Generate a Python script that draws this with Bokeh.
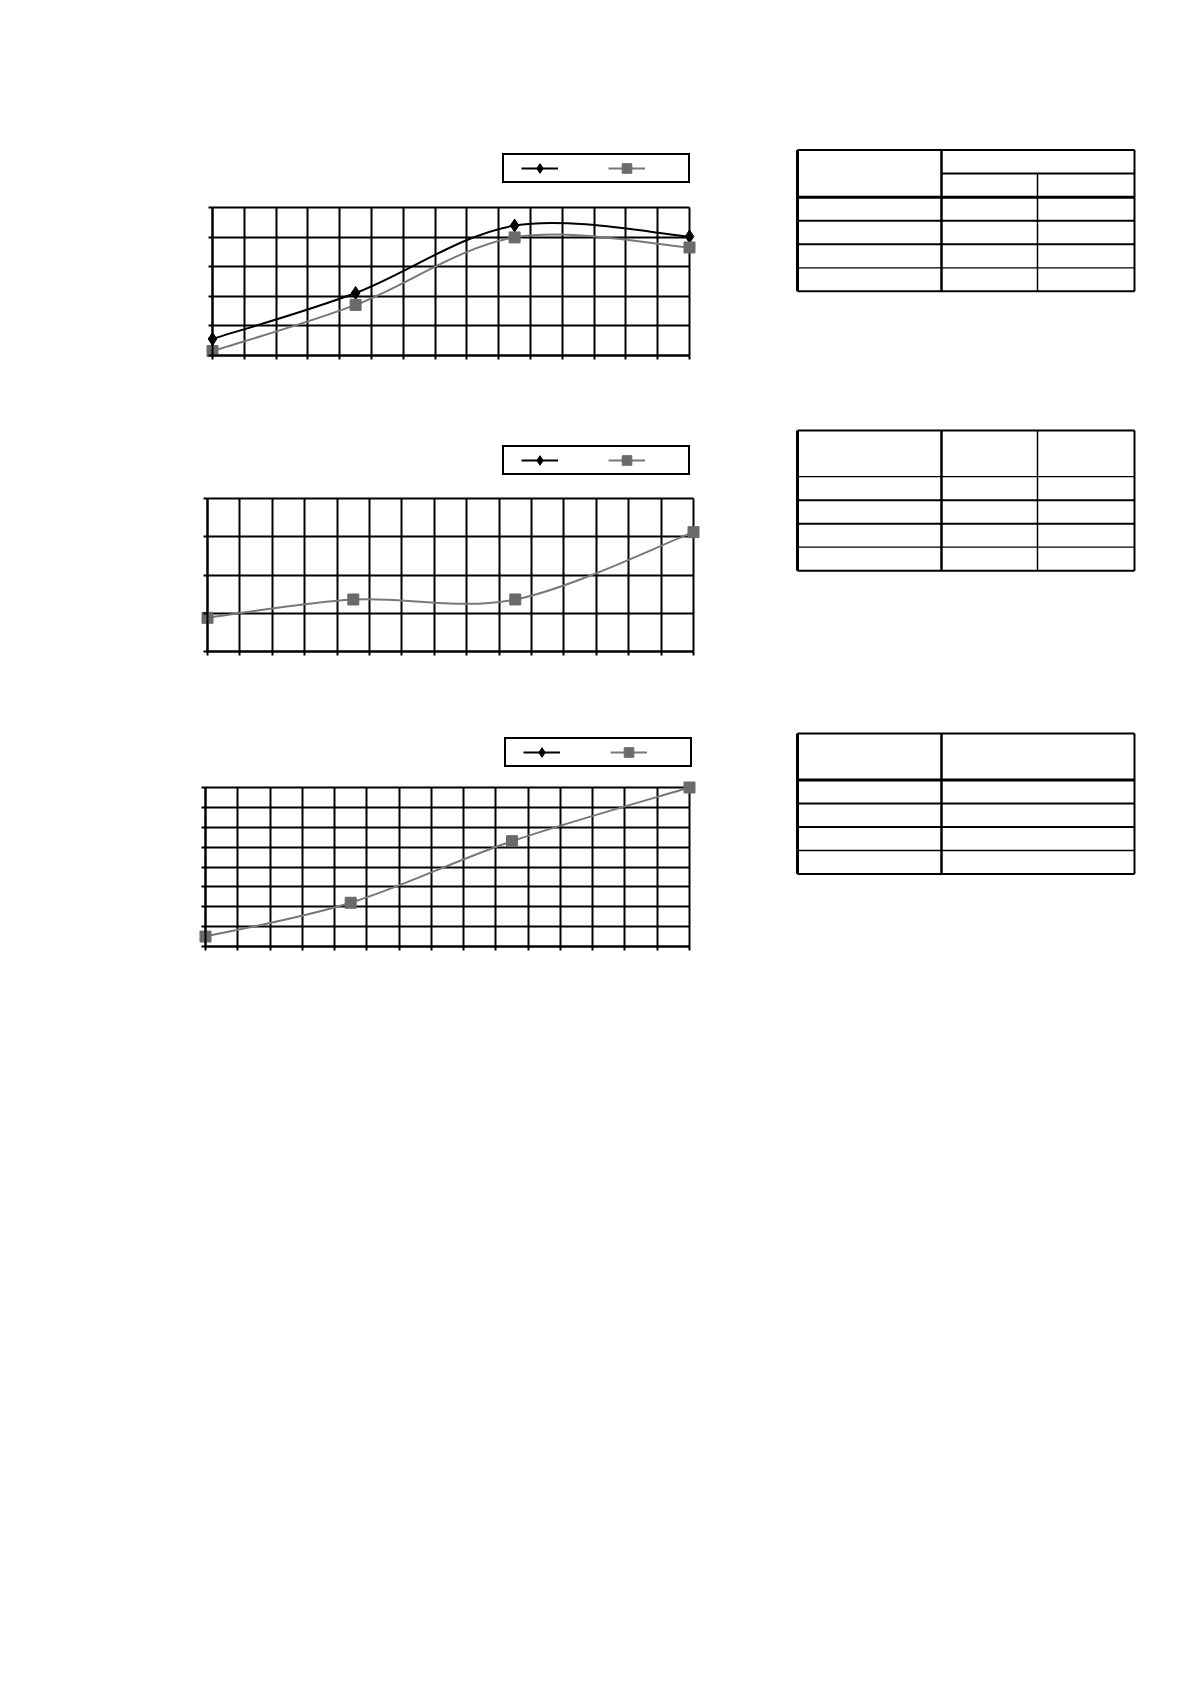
from bokeh.plotting import figure
from bokeh.models import (Range1d, FixedTicker, CustomJSTickFormatter, Legend,
                          LegendItem, ColumnDataSource)
from bokeh.layouts import row, column
from bokeh.embed import file_html
from bokeh.resources import INLINE

# ---------------- data ----------------
x_pos = [0, 4.5, 9.5, 15]
c1_black = [0.56, 2.11, 4.39, 4.02]
c1_gray = [0.15, 1.71, 3.99, 3.65]
c2_gray = [0.88, 1.36, 1.36, 3.12]
c3_gray = [0.5, 2.2, 5.3, 8.0]
x_ticks = list(range(0, 16))
y_ticks_1 = list(range(0, 6))
y_ticks_2 = list(range(0, 5))
y_ticks_3 = list(range(0, 9))

BLACK = "#000000"
GRAY = "#787878"
GRAY_M = "#6a6a6a"
PAD = 8
FIG_W = 752
LEG_H = 26
FRAME_L = 195     # common frame left of the three charts
FRAME_R = 701     # common frame right of the three charts
NAN = float("nan")


def bezier_parts(xs, ys):
    n = len(xs)
    P = list(zip(xs, ys))
    d = dict(x0=[], y0=[], x1=[], y1=[], cx0=[], cy0=[], cx1=[], cy1=[])
    for i in range(n - 1):
        pm, p0, p1, p2 = P[max(i - 1, 0)], P[i], P[i + 1], P[min(i + 2, n - 1)]
        d["x0"].append(p0[0]); d["y0"].append(p0[1])
        d["x1"].append(p1[0]); d["y1"].append(p1[1])
        d["cx0"].append(p0[0] + (p1[0] - pm[0]) / 6)
        d["cy0"].append(p0[1] + (p1[1] - pm[1]) / 6)
        d["cx1"].append(p1[0] - (p2[0] - p0[0]) / 6)
        d["cy1"].append(p1[1] - (p2[1] - p0[1]) / 6)
    return d


def make_chart(black, gray, yticks, fig_h, gl, gt, gw, gh, leg_left, leg_top):
    x0, x1 = x_ticks[0], x_ticks[-1]
    y0, y1 = yticks[0], yticks[-1]
    frame_top = leg_top - 4
    top_pad = gt - frame_top
    lpad = gl - FRAME_L
    rpad = FRAME_R - (gl + gw)
    fh = gh + PAD + top_pad
    p = figure(frame_width=FRAME_R - FRAME_L, frame_height=fh,
               min_border_left=FRAME_L,
               min_border_right=FIG_W - FRAME_R,
               min_border_top=frame_top,
               min_border_bottom=fig_h - frame_top - fh,
               x_range=Range1d(x0 - lpad * (x1 - x0) / gw, x1 + rpad * (x1 - x0) / gw),
               y_range=Range1d(y0 - PAD * (y1 - y0) / gh, y1 + top_pad * (y1 - y0) / gh),
               output_backend="svg", toolbar_location=None)
    p.background_fill_color = "white"
    p.border_fill_color = "white"
    p.outline_line_color = None
    for ax, ticks, loc, b in ((p.xaxis, x_ticks, y0, (x0, x1)),
                              (p.yaxis, yticks, x0, (y0, y1))):
        ax.ticker = FixedTicker(ticks=ticks)
        ax.formatter = CustomJSTickFormatter(code="return ''")
        ax.fixed_location = loc
        ax.bounds = b
        ax.axis_line_color = BLACK
        ax.axis_line_width = 2
        ax.major_tick_line_color = BLACK
        ax.major_tick_line_width = 2
        ax.major_tick_out = 4
        ax.major_tick_in = 0
        ax.minor_tick_line_color = None
        ax.major_label_text_font_size = "1px"
    p.xgrid.ticker = FixedTicker(ticks=x_ticks)
    p.ygrid.ticker = FixedTicker(ticks=yticks)
    p.xgrid.bounds = (x0, x1)
    p.xgrid.cross_bounds = (y0, y1)
    p.ygrid.bounds = (y0, y1)
    p.ygrid.cross_bounds = (x0, x1)
    for g in (p.xgrid, p.ygrid):
        g.grid_line_color = BLACK
        g.grid_line_width = 2
        g.grid_line_alpha = 1

    items = []
    specs = [(black, BLACK, BLACK, "diamond", 13), (gray, GRAY, GRAY_M, "square", 11)]
    for ys, lc, mc, mk, sz in specs:
        if ys is not None:
            p.bezier(source=ColumnDataSource(bezier_parts(x_pos, ys)),
                     x0="x0", y0="y0", x1="x1", y1="y1",
                     cx0="cx0", cy0="cy0", cx1="cx1", cy1="cy1",
                     line_color=lc, line_width=2)
            src = ColumnDataSource(dict(x=x_pos, y=ys))
        else:
            src = ColumnDataSource(dict(x=[NAN], y=[NAN]))
        # placeholder (not drawn in the plot) so the legend shows the line sample
        lr = p.line(x=[NAN], y=[NAN], line_color=lc, line_width=2)
        sr = p.scatter("x", "y", source=src, marker=mk, size=sz,
                       fill_color=mc, line_color=mc)
        items.append(LegendItem(label=" ", renderers=[lr, sr]))

    vx = leg_left - FRAME_L
    vy = (gt + gh + PAD) - (leg_top + LEG_H)
    leg = Legend(items=items, location=(vx, vy), orientation="horizontal",
                 border_line_color=BLACK, border_line_width=2,
                 border_line_alpha=1,
                 background_fill_color="white", background_fill_alpha=1,
                 padding=1, margin=0, spacing=8, glyph_width=37,
                 glyph_height=24, label_width=37, label_height=20,
                 label_standoff=5, label_text_font_size="1px",
                 title=" ", title_location="left", title_text_font_size="1px",
                 title_standoff=15)
    p.add_layout(leg)
    return p


# ---------------- tables (structure only, no text) ----------------
TAB_W = 400
TAB_H = 1000
tab_cols_3 = [45, 189, 285, 382]
tab_cols_2 = [45, 189, 382]
tables = [
    dict(top=149.5, header=47.3, cols=tab_cols_3, full=[True, False],
         sub=173, hw=3, rw=[2, 2, 1.3], cw=[2.5, 1.5]),
    dict(top=430, header=46.2, cols=tab_cols_3, full=[True, True],
         sub=None, hw=1.3, rw=[2, 2, 1.3], cw=[2.5, 1.5]),
    dict(top=733, header=46.4, cols=tab_cols_2, full=[True],
         sub=None, hw=3, rw=[2, 2, 1.5], cw=[2.5]),
]
ROW_H = 23.5
N_ROWS = 4

tp = figure(width=TAB_W, height=TAB_H, x_range=Range1d(0, TAB_W),
            y_range=Range1d(TAB_H, 0), output_backend="svg",
            toolbar_location=None, min_border=0)
tp.axis.visible = False
tp.grid.visible = False
tp.outline_line_color = None
tp.background_fill_color = "white"
tp.border_fill_color = "white"
segs = dict(x0=[], y0=[], x1=[], y1=[], w=[])


def add(x0, y0, x1, y1, w):
    segs["x0"].append(x0); segs["y0"].append(y0)
    segs["x1"].append(x1); segs["y1"].append(y1); segs["w"].append(w)


for t in tables:
    cols = t["cols"]
    left, right, top = cols[0], cols[-1], t["top"]
    hb = top + t["header"]
    bottom = hb + ROW_H * N_ROWS
    add(left, top, right, top, 2)
    add(left, bottom, right, bottom, 2)
    add(left, top, left, bottom, 3)
    add(right, top, right, bottom, 2)
    add(left, hb, right, hb, t["hw"])
    for i in range(1, N_ROWS):
        add(left, hb + ROW_H * i, right, hb + ROW_H * i, t["rw"][i - 1])
    for j, x in enumerate(cols[1:-1]):
        add(x, top if t["full"][j] else t["sub"], x, bottom, t["cw"][j])
    if t["sub"] is not None:
        add(cols[1], t["sub"], right, t["sub"], 2)
tp.segment(x0="x0", y0="y0", x1="x1", y1="y1", line_width="w",
           line_color=BLACK, source=ColumnDataSource(segs))

ch1 = make_chart(c1_black, c1_gray, y_ticks_1, 410, 212, 207, 477, 148, 502, 157)
ch2 = make_chart(None, c2_gray, y_ticks_2, 280, 207, 88, 486, 153, 502, 39)
ch3 = make_chart(None, c3_gray, y_ticks_3, 310, 205, 97, 484, 159, 504, 51)

layout = row(column(ch1, ch2, ch3), tp)
open("out.html", "w").write(file_html(layout, INLINE))
